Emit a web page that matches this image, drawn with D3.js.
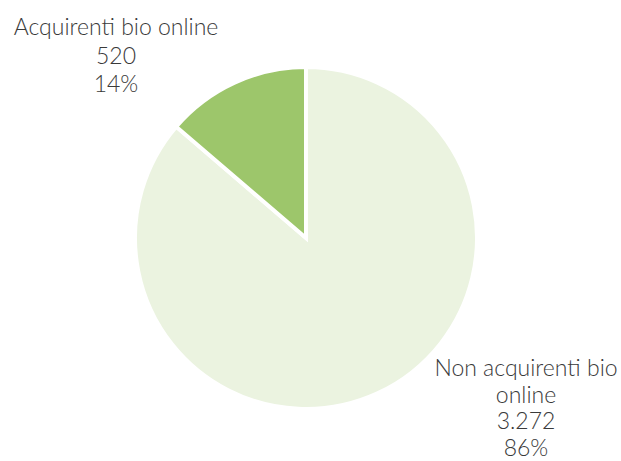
<!DOCTYPE html>
<html><head><meta charset="utf-8">
<script src="https://cdn.jsdelivr.net/npm/d3@7"></script>
<style>body{margin:0;background:#fff}</style>
</head><body>
<svg id="c" width="621" height="461"></svg>
<script>
const categories = ["Non acquirenti bio online", "Acquirenti bio online"];
const values = [3272, 520];
const valueLabels = ["3.272", "520"];
const percentLabels = ["86%", "14%"];
const colors = ["#EBF3E0", "#9DC66B"];

const svg = d3.select("#c");
const cx = 306, cy = 238, r = 171;
const g = svg.append("g").attr("transform", `translate(${cx},${cy})`);
const pie = d3.pie().sort(null).value(d => d)(values);
const arc = d3.arc().innerRadius(0).outerRadius(r);
g.selectAll("path").data(pie).enter().append("path")
  .attr("d", arc).attr("fill", (d,i) => colors[i])
  .attr("stroke", "#fff").attr("stroke-width", 4).attr("stroke-linejoin","miter");

const font = "'Lato', 'Open Sans', sans-serif";
const labels = [
  {x: 526, y: 376, lines: [categories[0].replace(" online",""), "online", valueLabels[0], percentLabels[0]], dy: 26.5},
  {x: 116, y: 35, lines: [categories[1], valueLabels[1], percentLabels[1]], dy: 28.5}
];
labels.forEach(l => {
  const t = svg.append("text").attr("text-anchor","middle")
    .attr("font-family", font).attr("font-weight", 300).attr("font-size", 23)
    .attr("fill", "#3a3a3a");
  l.lines.forEach((s,i) => t.append("tspan").attr("x", l.x).attr("y", l.y + i*l.dy).text(s));
});
</script>
</body></html>
